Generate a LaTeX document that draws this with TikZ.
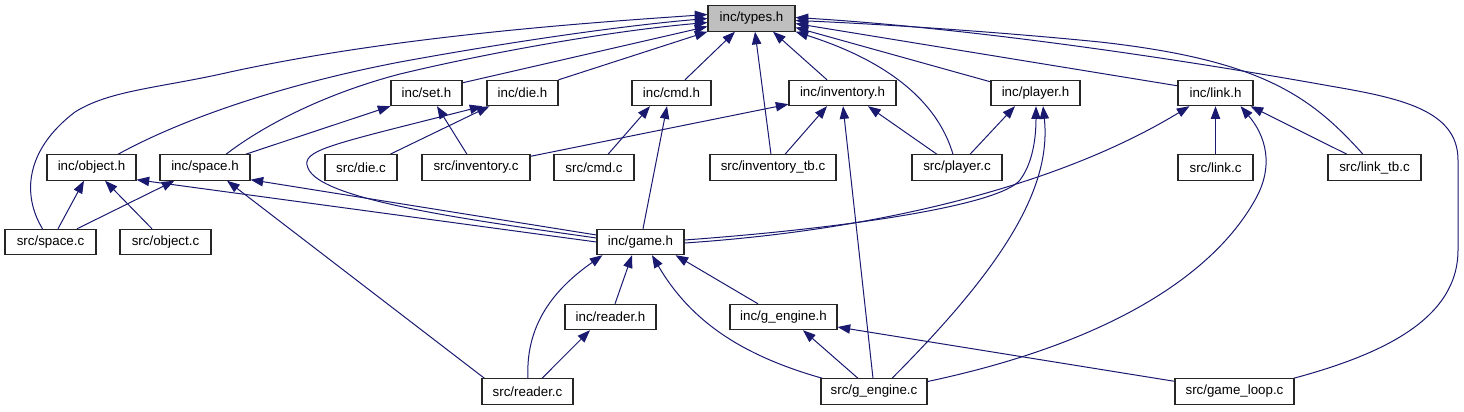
\documentclass[tikz,border=0pt]{standalone}
\usepackage{fontspec}
\setmainfont{Liberation Sans}
\usetikzlibrary{arrows.meta,calc,backgrounds}
\definecolor{edgecol}{HTML}{191970}
\tikzset{
  box/.style={draw=black!85, line width=0.8pt, fill=white, inner sep=0pt,
    minimum height=19pt, font=\fontsize{10}{12}\selectfont},
  root/.style={box, fill=black!25},
  edge/.style={draw=edgecol, line width=0.75pt,
    -{Triangle[length=9.5pt,width=7pt]}}
}
\begin{document}
\begin{tikzpicture}[x=0.75pt,y=-0.75pt]
\useasboundingbox (0,0) rectangle (1464,411);
% row 0
\node[root, minimum width=65.25pt] (types) at (751.5,18.5) {inc/types.h};
% row 1
\node[box, minimum width=53.25pt] (set) at (426.5,93) {inc/set.h};
\node[box, minimum width=53.25pt] (die) at (522.5,93) {inc/die.h};
\node[box, minimum width=59.25pt] (cmd) at (671.5,93) {inc/cmd.h};
\node[box, minimum width=80.25pt] (inv) at (842.5,93) {inc/inventory.h};
\node[box, minimum width=66.75pt] (player) at (1035.5,93) {inc/player.h};
\node[box, minimum width=56.25pt] (link) at (1215.5,93) {inc/link.h};
% row 2
\node[box, minimum width=66.75pt] (object) at (91.5,167.5) {inc/object.h};
\node[box, minimum width=67.5pt] (space) at (205,167.5) {inc/space.h};
\node[box, minimum width=54pt] (diec) at (361,167.5) {src/die.c};
\node[box, minimum width=81pt] (invc) at (476,167.5) {src/inventory.c};
\node[box, minimum width=60pt] (cmdc) at (594,167.5) {src/cmd.c};
\node[box, minimum width=94.5pt] (invtb) at (773,167.5) {src/inventory\_tb.c};
\node[box, minimum width=67.5pt] (playerc) at (957,167.5) {src/player.c};
\node[box, minimum width=56.25pt] (linkc) at (1215.5,167.5) {src/link.c};
\node[box, minimum width=69.75pt] (linktb) at (1374.5,167.5) {src/link\_tb.c};
% row 3
\node[box, minimum width=68.25pt] (spacec) at (50.5,242) {src/space.c};
\node[box, minimum width=68.25pt] (objectc) at (165.5,242) {src/object.c};
\node[box, minimum width=65.25pt] (game) at (640.5,242) {inc/game.h};
% row 4
\node[box, minimum width=68.25pt] (readerh) at (610.5,317) {inc/reader.h};
\node[box, minimum width=80.25pt] (gengh) at (783.5,317) {inc/g\_engine.h};
% row 5
\node[box, minimum width=68.25pt] (readerc) at (527.5,391.5) {src/reader.c};
\node[box, minimum width=79.5pt] (gengc) at (874,391.5) {src/g\_engine.c};
\node[box, minimum width=89.25pt] (gloop) at (1234.5,391.5) {src/game\_loop.c};

\begin{scope}[on background layer]
% into types.h
\draw[edge] ($(spacec.north)+(-8,0)$) .. controls (22,195) and (25,150) .. (75,112)
  .. controls (110,90) and (160,88) .. (230,72)
  .. controls (400,35) and (600,22) .. ($(types.west)+(0,-4)$);
\draw[edge] ($(object.north)+(26.5,0)$) .. controls (180,120) and (280,85) .. (400,62)
  .. controls (520,40) and (630,25) .. (types.west);
\draw[edge] ($(space.north)+(21,0)$) .. controls (260,128) and (320,95) .. (400,74)
  .. controls (500,50) and (620,30) .. ($(types.west)+(0,4)$);
\draw[edge] ($(set.north east)+(0,3)$) -- ($(types.west)+(0,8)$);
\draw[edge] (die.north east) -- (types.south west);
\draw[edge] ($(cmd.north)+(13.5,0)$) -- ($(types.south)+(-16.5,0)$);
\draw[edge] ($(invtb.north)+(-2,0)$) -- ($(types.south)+(3.5,0)$);
\draw[edge] ($(inv.north)+(-15.5,0)$) -- ($(types.south)+(21.5,0)$);
\draw[edge] ($(playerc.north)+(-4,0)$) .. controls (940,110) and (900,65) .. (types.south east);
\draw[edge] ($(player.north west)+(0,2)$) -- ($(types.east)+(0,9)$);
\draw[edge] ($(link.north west)+(0,6)$) -- ($(types.east)+(0,5)$);
\draw[edge] ($(linktb.north)+(-11.5,0)$) .. controls (1310,95) and (1260,60) .. (1100,42)
  .. controls (1000,32) and (880,24) .. ($(types.east)+(0,2)$);
\draw[edge] ($(gloop.north east)+(-1,0)$) .. controls (1380,355) and (1458,320) .. (1458,250)
  -- (1458,160) .. controls (1458,110) and (1400,98) .. (1330,86)
  .. controls (1230,68) and (1000,30) .. ($(types.east)+(0,-1)$);
% into set.h
\draw[edge] ($(space.north east)+(-5,0)$) -- (set.south west);
\draw[edge] ($(invc.north)+(-9,0)$) -- ($(set.south)+(10.5,0)$);
% into die.h
\draw[edge] ($(game.west)+(0,-4)$) .. controls (470,220) and (320,200) .. (308,168)
  .. controls (300,150) and (330,145) .. ($(die.south west)+(-4,0)$);
\draw[edge] ($(diec.north)+(29,0)$) -- ($(die.south west)+(3,0)$);
% into cmd.h
\draw[edge] ($(cmdc.north)+(14,0)$) -- ($(cmd.south)+(-21.5,0)$);
\draw[edge] ($(game.north)+(2.5,0)$) -- ($(cmd.south)+(-4.5,0)$);
% into inventory.h
\draw[edge] ($(invc.north east)+(0,2)$) -- ($(inv.south west)+(0,-2)$);
\draw[edge] ($(invtb.north)+(12,0)$) -- ($(inv.south)+(-15.5,0)$);
\draw[edge] ($(gengc.north)+(-1,0)$) -- ($(inv.south)+(0.5,0)$);
\draw[edge] ($(playerc.north)+(-20,0)$) -- ($(inv.south)+(25.5,0)$);
% into player.h
\draw[edge] ($(playerc.north)+(13,0)$) -- ($(player.south)+(-20.5,0)$);
\draw[edge] ($(game.east)+(0,-2)$) .. controls (850,228) and (1000,205) .. (1020,180)
  .. controls (1035,160) and (1036,130) .. ($(player.south)+(0.5,0)$);
\draw[edge] ($(gengc.north)+(18,0)$) .. controls (1000,270) and (1052,190) .. ($(player.south)+(7.5,0)$);
% into link.h
\draw[edge] (linkc.north) -- (link.south);
\draw[edge] ($(linktb.north)+(-27.5,0)$) -- ($(link.south east)+(-3,0)$);
\draw[edge] ($(game.east)+(0,1)$) .. controls (880,230) and (1060,185) .. ($(link.south west)+(12,0)$);
\draw[edge] ($(gengc.east)+(0,-10)$) .. controls (1100,345) and (1210,280) .. (1255,200)
  .. controls (1275,165) and (1265,135) .. ($(link.south east)+(-13,0)$);
% into space.h / object.h
\draw[edge] ($(spacec.north)+(26.5,0)$) -- ($(space.south west)+(15,0)$);
\draw[edge] ($(spacec.north)+(7.5,0)$) -- ($(object.south)+(-7.5,0)$);
\draw[edge] ($(objectc.north)+(-13.5,0)$) -- ($(object.south)+(13.5,0)$);
\draw[edge] (game.west) -- ($(object.south east)+(0,-1)$);
\draw[edge] ($(game.west)+(0,-7)$) -- ($(space.south east)+(0,-1)$);
\draw[edge] ($(readerc.north west)+(3,0)$) -- ($(space.south)+(22,0)$);
% into game.h
\draw[edge] ($(readerc.north)+(0.5,0)$) .. controls (525,320) and (560,285) .. ($(game.south west)+(6,0)$);
\draw[edge] ($(readerh.north)+(4.5,0)$) -- ($(game.south)+(-8.5,0)$);
\draw[edge] ($(gengc.north west)+(2,0)$) .. controls (740,355) and (690,320) .. ($(game.south)+(11.5,0)$);
\draw[edge] ($(gengh.north)+(-25.5,0)$) -- ($(game.south east)+(-9,0)$);
% into reader.h / g_engine.h
\draw[edge] ($(readerc.north)+(14.5,0)$) -- ($(readerh.south)+(-20.5,0)$);
\draw[edge] ($(gengc.north)+(-16,0)$) -- ($(gengh.south)+(19.5,0)$);
\draw[edge] ($(gloop.north west)+(0,3)$) -- ($(gengh.east)+(0,10)$);
\end{scope}
\end{tikzpicture}
\end{document}
